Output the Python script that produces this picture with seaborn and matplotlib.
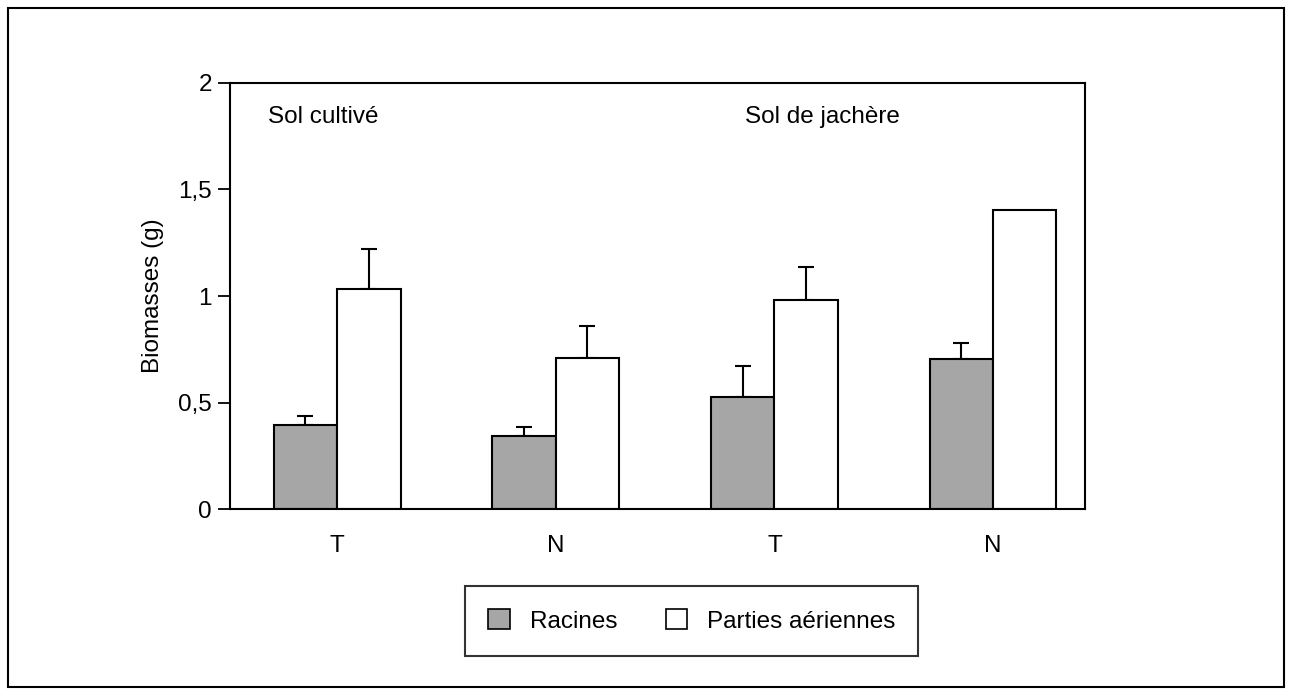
import matplotlib
matplotlib.use("Agg")
import matplotlib.pyplot as plt
import seaborn as sns
import pandas as pd
from matplotlib.patches import Rectangle, Patch

sns.set_theme(style="white")
plt.rcParams['font.family'] = ['Liberation Sans', 'DejaVu Sans']
plt.rcParams['text.color'] = 'black'
plt.rcParams['axes.labelcolor'] = 'black'
plt.rcParams['xtick.color'] = 'black'
plt.rcParams['ytick.color'] = 'black'

groups = ["T1", "N1", "T2", "N2"]
group_labels = ["T", "N", "T", "N"]
series = ["Racines", "Parties aériennes"]
racines = [0.394, 0.343, 0.526, 0.704]
racines_err = [0.043, 0.042, 0.145, 0.075]
aeriennes = [1.033, 0.709, 0.981, 1.404]
aeriennes_err = [0.187, 0.150, 0.155, 0.0]
yticks = [0, 0.5, 1, 1.5, 2]
ytick_labels = ["0", "0,5", "1", "1,5", "2"]
colors = ["#a6a6a6", "#ffffff"]

df = pd.DataFrame({
    "groupe": groups * 2,
    "serie": [series[0]] * 4 + [series[1]] * 4,
    "valeur": racines + aeriennes,
})
errs = racines_err + aeriennes_err

FS = 17.5

fig = plt.figure(figsize=(12.93, 6.95), dpi=100)
ax = fig.add_axes([0.1779, 0.2676, 0.839 - 0.1779, 0.8806 - 0.2676])

sns.barplot(data=df, x="groupe", y="valeur", hue="serie", order=groups,
            hue_order=series, palette=colors, width=0.58, edgecolor="black",
            linewidth=1.5, errorbar=None, legend=False, ax=ax, saturation=1)

bars = [p for p in ax.patches if isinstance(p, Rectangle)]
for p, e in zip(bars, errs):
    if e > 0:
        xc = p.get_x() + p.get_width() / 2
        top = p.get_height()
        ax.errorbar([xc], [top], yerr=[[0], [e]], fmt="none", ecolor="black",
                    elinewidth=1.5, capsize=5.8, capthick=1.5, zorder=1)
for p in bars:
    p.set_zorder(2)

ax.set_xlim(-0.49, 3.42)
ax.set_ylim(0, 2)
ax.set_yticks(yticks)
ax.set_yticklabels(ytick_labels)
ax.set_xticks(range(4))
ax.set_xticklabels(group_labels)
ax.tick_params(axis="y", direction="out", length=9, width=1.3, color="black",
               labelsize=FS, pad=4, left=True)
ax.tick_params(axis="x", length=0, labelsize=FS, pad=19)
ax.set_xlabel("")
ax.set_ylabel("Biomasses (g)", fontsize=FS, labelpad=10)
for s in ax.spines.values():
    s.set_visible(True)
    s.set_color("black")
    s.set_linewidth(1.5)

ax.text(0.045, 0.92, "Sol cultivé", transform=ax.transAxes, fontsize=FS,
        ha="left", va="center")
ax.text(0.602, 0.92, "Sol de jachère", transform=ax.transAxes, fontsize=FS,
        ha="left", va="center")

handles = [Patch(facecolor=c, edgecolor="black", linewidth=1.2) for c in colors]
leg = fig.legend(handles, series, loc="center", bbox_to_anchor=(0.535, 0.1065),
                 ncol=2, fontsize=FS, frameon=True, fancybox=False,
                 edgecolor="black", handlelength=0.9, handleheight=0.9,
                 columnspacing=2.0, handletextpad=0.8, borderpad=0.95,
                 borderaxespad=0)
leg.get_frame().set_linewidth(1.5)

fig.patches.append(Rectangle((8 / 1293, 1 - 687 / 695), (1284 - 8) / 1293,
                             (687 - 8) / 695, transform=fig.transFigure,
                             fill=False, edgecolor="black", linewidth=1.5))

fig.savefig("out.png", dpi=100, facecolor="white")
